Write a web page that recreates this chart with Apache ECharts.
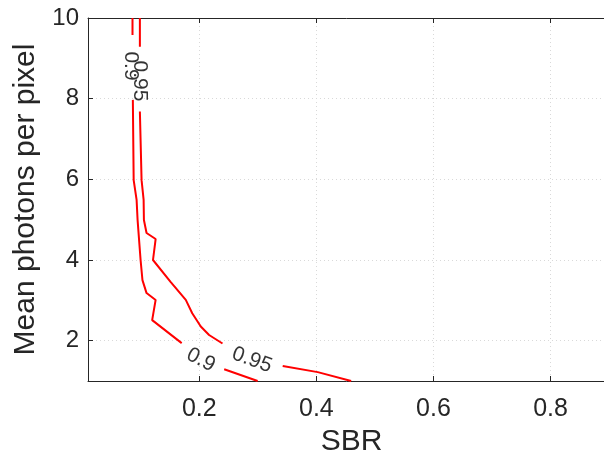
<!DOCTYPE html>
<html>
<head>
<meta charset="utf-8">
<script src="https://cdn.jsdelivr.net/npm/echarts@6/dist/echarts.min.js"></script>
<style>
  html, body { margin: 0; padding: 0; background: #fff; }
  #main { width: 604px; height: 464px; }
</style>
</head>
<body>
<div id="main"></div>
<script>
// contour level 0.9, split where the inline labels sit
var level90 = [
  [[0.086, 10.0], [0.086, 9.58]],
  [[0.0866, 7.97], [0.088, 5.98], [0.093, 5.49], [0.0947, 4.99], [0.0998, 4.0],
   [0.103, 3.5], [0.110, 3.18], [0.1255, 3.01], [0.1196, 2.51], [0.170, 1.94]],
  [[0.2426, 1.29], [0.2997, 1.0]]
];
// contour level 0.95
var level95 = [
  [[0.0986, 10.0], [0.0986, 9.29]],
  [[0.0986, 7.68], [0.1015, 5.98], [0.105, 5.49], [0.1055, 4.99], [0.110, 4.67],
   [0.1255, 4.52], [0.121, 4.0], [0.151, 3.46], [0.177, 3.01], [0.188, 2.68],
   [0.2026, 2.35], [0.2168, 2.14], [0.2397, 1.93]],
  [[0.3425, 1.37], [0.4024, 1.22], [0.4594, 1.0]]
];
// inline contour labels: text, x, y, angle
var contourLabels = [
  ['0.9', 0.0827, 8.81, -90],
  ['0.95', 0.098, 8.44, -90],
  ['0.9', 0.2026, 1.52, -27],
  ['0.95', 0.29, 1.52, -20]
];
var xTicks = [0.2, 0.4, 0.6, 0.8];
var yTicks = [2, 4, 6, 8, 10];

function joinSegments(segs) {
  var out = [];
  segs.forEach(function (s, i) {
    if (i > 0) out.push('-');
    s.forEach(function (p) { out.push(p); });
  });
  return out;
}

var font = 'Liberation Sans';
var axisCol = '#262626';

var myChart = echarts.init(document.getElementById('main'));

function xAxisBase(pos, labels) {
  return {
    type: 'value',
    position: pos,
    min: 0.01,
    max: 0.91,
    name: labels ? 'SBR' : '',
    nameLocation: 'middle',
    nameGap: 45,
    nameTextStyle: { fontFamily: font, fontSize: 30, color: axisCol },
    axisLine: { show: true, onZero: false, lineStyle: { color: axisCol, width: 1 } },
    axisTick: { show: true, inside: true, length: 5, customValues: xTicks,
      lineStyle: { color: axisCol } },
    axisLabel: { show: labels, customValues: xTicks, margin: 16,
      fontFamily: font, fontSize: 25, color: axisCol },
    splitLine: { show: labels, lineStyle: { color: '#d9d9d9', type: [1, 3] } }
  };
}

myChart.setOption({
  animation: false,
  grid: { left: 88, right: -11, top: 18, bottom: 83, outerBoundsMode: 'none' },
  xAxis: [xAxisBase('bottom', true), xAxisBase('top', false)],
  yAxis: {
    type: 'value',
    min: 1,
    max: 10,
    name: 'Mean photons per pixel',
    nameLocation: 'middle',
    nameGap: 47,
    nameTextStyle: { fontFamily: font, fontSize: 30, color: axisCol },
    axisLine: { show: true, lineStyle: { color: axisCol, width: 1 } },
    axisTick: { show: true, inside: true, length: 5, customValues: yTicks,
      lineStyle: { color: axisCol } },
    axisLabel: { customValues: yTicks, margin: 9,
      fontFamily: font, fontSize: 24, color: axisCol },
    splitLine: { show: true, lineStyle: { color: '#d9d9d9', type: [1, 3] } }
  },
  series: [
    {
      type: 'line',
      data: joinSegments(level90),
      symbol: 'none',
      connectNulls: false,
      lineStyle: { color: '#ff0000', width: 2 }
    },
    {
      type: 'line',
      data: joinSegments(level95),
      symbol: 'none',
      connectNulls: false,
      lineStyle: { color: '#ff0000', width: 2 }
    },
    {
      type: 'scatter',
      symbolSize: 0,
      data: contourLabels.map(function (l) {
        return { value: [l[1], l[2]], name: l[0], label: { rotate: l[3] } };
      }),
      label: {
        show: true,
        position: 'inside',
        formatter: function (p) { return p.name; },
        fontFamily: font,
        fontSize: 21,
        color: '#000',
        textBorderWidth: 0
      }
    }
  ]
});
</script>
</body>
</html>
